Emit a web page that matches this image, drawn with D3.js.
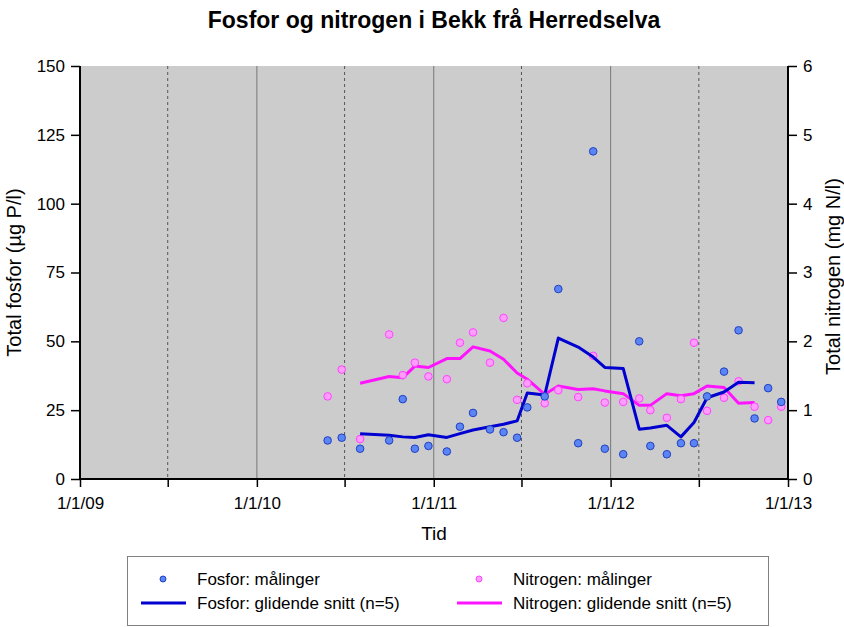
<!DOCTYPE html>
<html>
<head>
<meta charset="utf-8">
<script src="https://cdn.jsdelivr.net/npm/d3@7"></script>
<style>
  body { margin: 0; background: #fff; }
  text { font-family: "Liberation Sans", Arial, sans-serif; }
</style>
</head>
<body>
<div id="chart"></div>
<script>
// sampling dates
const dates = [
  '2010-05-27', '2010-06-25', '2010-08-02', '2010-10-01', '2010-10-29', '2010-11-23',
  '2010-12-21', '2011-01-28', '2011-02-24', '2011-03-23', '2011-04-27', '2011-05-25',
  '2011-06-22', '2011-07-13', '2011-08-18', '2011-09-15', '2011-10-26', '2011-11-26',
  '2011-12-20', '2012-01-27', '2012-02-29', '2012-03-23', '2012-04-26', '2012-05-25',
  '2012-06-21', '2012-07-18', '2012-08-22', '2012-09-21', '2012-10-24', '2012-11-21',
  '2012-12-18'
];

// Total fosfor, µg P/l
const fosfor = [14, 15, 11, 14, 29, 11, 12, 10, 19, 24, 18, 17, 15, 26, 30, 69,
  13, 119, 11, 9, 50, 12, 9, 13, 13, 30, 39, 54, 22, 33, 28];

// Total nitrogen, mg N/l
const nitrogen = [1.20, 1.59, 0.58, 2.10, 1.51, 1.69, 1.49, 1.45, 1.98, 2.13, 1.69, 2.34,
  1.15, 1.39, 1.10, 1.29, 1.19, 1.79, 1.11, 1.12, 1.17, 1.00, 0.89, 1.16, 1.98, 0.99,
  1.18, 1.42, 1.05, 0.855, 1.05];

// moving averages (n=5), from the 3rd to the 29th sample
const fosforSnitt = [16.4, 15.9, 15.3, 15.1, 16.1, 15.1, 16.5, 17.8, 19.0, 19.9, 21.1,
  31.2, 30.5, 51.2, 47.9, 44.3, 40.5, 40.1, 18.1, 18.5, 19.5, 15.3, 20.5, 29.5, 31.6,
  35.1, 35.0];
const nitrogenSnitt = [1.39, 1.49, 1.47, 1.64, 1.62, 1.75, 1.75, 1.92, 1.86, 1.74, 1.54,
  1.45, 1.23, 1.35, 1.30, 1.31, 1.28, 1.24, 1.07, 1.07, 1.24, 1.21, 1.24, 1.35, 1.33,
  1.10, 1.11];

const xTicks = ['2009-01-01', '2010-01-01', '2011-01-01', '2012-01-01', '2013-01-01'];
const halfYears = ['2009-07-01', '2010-07-01', '2011-07-01', '2012-07-01'];
const leftTicks = [0, 25, 50, 75, 100, 125, 150];
const rightTicks = [0, 1, 2, 3, 4, 5, 6];

const parse = d3.timeParse('%Y-%m-%d');
const width = 844, height = 627;
const m = { left: 80, right: 788, top: 66, bottom: 479 };

const svg = d3.select('#chart').append('svg')
  .attr('width', width)
  .attr('height', height);

const x = d3.scaleTime()
  .domain([parse(xTicks[0]), parse(xTicks[4])])
  .range([m.left, m.right]);
const yP = d3.scaleLinear().domain([0, 150]).range([m.bottom, m.top]);
const yN = d3.scaleLinear().domain([0, 6]).range([m.bottom, m.top]);

// plot background
svg.append('rect')
  .attr('x', m.left).attr('y', m.top)
  .attr('width', m.right - m.left).attr('height', m.bottom - m.top)
  .attr('fill', '#cccccc');

// year lines and half-year dashed lines
svg.selectAll('.yr')
  .data(xTicks.slice(1, 4))
  .enter().append('line')
  .attr('x1', d => x(parse(d))).attr('x2', d => x(parse(d)))
  .attr('y1', m.top).attr('y2', m.bottom)
  .attr('stroke', '#777').attr('stroke-width', 1);

svg.selectAll('.half')
  .data(halfYears)
  .enter().append('line')
  .attr('x1', d => x(parse(d))).attr('x2', d => x(parse(d)))
  .attr('y1', m.top).attr('y2', m.bottom)
  .attr('stroke', '#555').attr('stroke-width', 1)
  .attr('stroke-dasharray', '3,3');

// axes
const fmtDate = d3.timeFormat('%-m/%-d/%y');
const xAxis = svg.append('g')
  .attr('transform', `translate(0,${m.bottom})`)
  .call(d3.axisBottom(x)
    .tickValues(xTicks.concat(halfYears).map(parse))
    .tickSize(8)
    .tickPadding(10)
    .tickFormat(d => d.getMonth() === 0 ? fmtDate(d) : ''));

const leftAxis = svg.append('g')
  .attr('transform', `translate(${m.left},0)`)
  .call(d3.axisLeft(yP).tickValues(leftTicks).tickSize(9).tickPadding(6));

const rightAxis = svg.append('g')
  .attr('transform', `translate(${m.right},0)`)
  .call(d3.axisRight(yN).tickValues(rightTicks).tickSize(9).tickPadding(6)
    .tickFormat(d3.format('d')));

[xAxis, leftAxis, rightAxis].forEach(g => {
  g.select('.domain').attr('stroke', '#000').attr('stroke-width', 2);
  g.selectAll('.tick line').attr('stroke', '#000').attr('stroke-width', 1.5);
  g.selectAll('.tick text').attr('font-size', 17).attr('fill', '#000')
    .attr('font-family', '"Liberation Sans", Arial, sans-serif');
});
xAxis.select('.domain').attr('d', `M${m.left},0H${m.right}`);
leftAxis.select('.domain').attr('d', `M0,${m.bottom}V${m.top}`);
rightAxis.select('.domain').attr('d', `M0,${m.bottom}V${m.top}`);

// lines
const samples = dates.map(parse);
const snittDates = samples.slice(2, 29);

const lineP = d3.line().x((d, i) => x(snittDates[i])).y(d => yP(d));
const lineN = d3.line().x((d, i) => x(snittDates[i])).y(d => yN(d));

svg.append('path')
  .datum(nitrogenSnitt)
  .attr('d', lineN)
  .attr('fill', 'none')
  .attr('stroke', '#ff14ff')
  .attr('stroke-width', 3)
  .attr('stroke-linejoin', 'round');

// points
svg.selectAll('.nPt')
  .data(nitrogen)
  .enter().append('circle')
  .attr('cx', (d, i) => x(samples[i]))
  .attr('cy', d => yN(d))
  .attr('r', 3.8)
  .attr('fill', '#ff9cff')
  .attr('stroke', '#ff44ff')
  .attr('stroke-width', 1);

svg.append('path')
  .datum(fosforSnitt)
  .attr('d', lineP)
  .attr('fill', 'none')
  .attr('stroke', '#0000d0')
  .attr('stroke-width', 3)
  .attr('stroke-linejoin', 'round');

svg.selectAll('.pPt')
  .data(fosfor)
  .enter().append('circle')
  .attr('cx', (d, i) => x(samples[i]))
  .attr('cy', d => yP(d))
  .attr('r', 3.8)
  .attr('fill', '#5b84f5')
  .attr('stroke', '#2040c0')
  .attr('stroke-width', 1);

// titles
svg.append('text')
  .attr('x', 434).attr('y', 28)
  .attr('text-anchor', 'middle')
  .attr('font-size', 23).attr('font-weight', 'bold')
  .text('Fosfor og nitrogen i Bekk frå Herredselva');

svg.append('text')
  .attr('x', (m.left + m.right) / 2).attr('y', 540)
  .attr('text-anchor', 'middle')
  .attr('font-size', 19)
  .text('Tid');

svg.append('text')
  .attr('transform', `translate(21,${(m.top + m.bottom) / 2}) rotate(-90)`)
  .attr('text-anchor', 'middle')
  .attr('font-size', 20)
  .text('Total fosfor (µg P/l)');

svg.append('text')
  .attr('transform', `translate(840,${(m.top + m.bottom) / 2 + 4}) rotate(-90)`)
  .attr('text-anchor', 'middle')
  .attr('font-size', 20)
  .text('Total nitrogen (mg N/l)');

// legend
const legend = svg.append('g');
legend.append('rect')
  .attr('x', 127.5).attr('y', 556.5)
  .attr('width', 641).attr('height', 69)
  .attr('fill', '#fff')
  .attr('stroke', '#808080').attr('stroke-width', 1);

const legendItems = [
  { x: 141, label: 'Fosfor', fill: '#5b84f5', stroke: '#2040c0', line: '#0000d0' },
  { x: 457, label: 'Nitrogen', fill: '#ff9cff', stroke: '#ff44ff', line: '#ff14ff' }
];
legendItems.forEach(it => {
  legend.append('circle')
    .attr('cx', it.x + 22).attr('cy', 579).attr('r', 3)
    .attr('fill', it.fill).attr('stroke', it.stroke);
  legend.append('line')
    .attr('x1', it.x).attr('x2', it.x + 45)
    .attr('y1', 603).attr('y2', 603)
    .attr('stroke', it.line).attr('stroke-width', 3);
  legend.append('text')
    .attr('x', it.x + 56).attr('y', 585)
    .attr('font-size', 17)
    .text(it.label + ': målinger');
  legend.append('text')
    .attr('x', it.x + 56).attr('y', 609)
    .attr('font-size', 17)
    .text(it.label + ': glidende snitt (n=5)');
});
</script>
</body>
</html>
